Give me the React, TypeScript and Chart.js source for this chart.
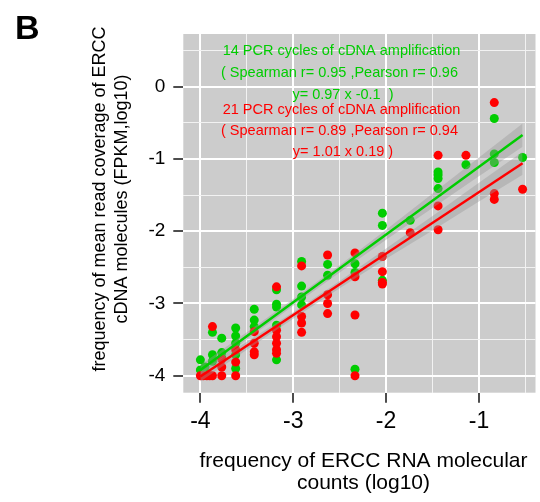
import React, { useEffect, useRef } from 'react';
import { Chart, registerables } from 'chart.js';
Chart.register(...registerables);

// ---- data (log10 scale) ----
const greenX = [-4.0, -4.0, -3.95, -3.87, -3.87, -3.87, -3.77, -3.77, -3.77, -3.62, -3.62, -3.62, -3.62, -3.62, -3.42, -3.42, -3.42, -3.18, -3.18, -3.18, -3.18, -3.18, -2.91, -2.91, -2.91, -2.91, -2.63, -2.63, -2.335, -2.335, -2.335, -2.04, -2.04, -2.04, -1.74, -1.44, -1.44, -1.44, -1.44, -1.14, -0.835, -0.835, -0.835, -0.53];
const greenY = [-3.78, -3.92, -3.88, -3.40, -3.71, -3.80, -3.48, -3.68, -3.75, -3.34, -3.45, -3.55, -3.71, -3.90, -3.08, -3.23, -3.32, -2.81, -3.01, -3.05, -3.30, -3.78, -2.42, -2.76, -2.91, -3.02, -2.46, -2.61, -2.45, -2.57, -3.91, -1.75, -1.92, -2.68, -1.85, -1.18, -1.22, -1.27, -1.41, -1.08, -0.44, -0.93, -1.05, -0.98];

const redX = [-4.0, -3.97, -3.93, -3.90, -3.87, -3.87, -3.77, -3.77, -3.77, -3.62, -3.62, -3.62, -3.42, -3.42, -3.42, -3.42, -3.18, -3.18, -3.18, -3.18, -3.18, -3.18, -2.91, -2.91, -2.91, -2.91, -2.63, -2.63, -2.63, -2.63, -2.335, -2.335, -2.335, -2.335, -2.04, -2.04, -2.04, -2.04, -1.74, -1.44, -1.44, -1.44, -1.14, -0.835, -0.835, -0.835, -0.53];
const redY = [-4.0, -4.0, -4.0, -4.0, -4.0, -3.32, -3.77, -3.88, -4.0, -3.64, -3.81, -4.0, -3.39, -3.55, -3.67, -3.71, -2.77, -3.37, -3.46, -3.55, -3.64, -3.69, -2.48, -3.18, -3.27, -3.40, -2.33, -2.88, -3.00, -3.14, -2.30, -2.63, -3.16, -4.00, -2.35, -2.56, -2.71, -2.73, -2.02, -0.95, -1.65, -1.98, -0.95, -0.22, -1.48, -1.56, -1.42];

// fitted lines (endpoints)
const fitX = [-4.0, -0.53];
const greenFitY = [-3.92, -0.67];
const redFitY = [-4.01, -1.06];

// confidence ribbons
const bandX = [-4.0, -3.5, -3.0, -2.5, -2.0, -1.5, -1.0, -0.53];
const greenUpper = [-3.85, -3.40, -2.94, -2.47, -1.98, -1.48, -0.98, -0.51];
const greenLower = [-3.99, -3.50, -3.03, -2.57, -2.12, -1.68, -1.24, -0.83];
const redUpper = [-3.94, -3.53, -3.12, -2.69, -2.24, -1.79, -1.33, -0.90];
const redLower = [-4.08, -3.64, -3.21, -2.79, -2.38, -1.99, -1.59, -1.22];

const xTickValues = [-4, -3.5, -3, -2.5, -2, -1.5, -1, -0.5];
const yTickValues = [-4, -3.5, -3, -2.5, -2, -1.5, -1, -0.5, 0, 0.5];

const greenText = ['14 PCR cycles of cDNA amplification', '( Spearman r= 0.95 ,Pearson r= 0.96', 'y= 0.97 x -0.1  )'];
const redText = ['21 PCR cycles of cDNA amplification', '( Spearman r= 0.89 ,Pearson r= 0.94', 'y= 1.01 x 0.19 )'];
const xTitle = ['frequency of ERCC RNA molecular', 'counts (log10)'];
const yTitle = ['frequency of mean read coverage of ERCC', 'cDNA molecules (FPKM,log10)'];
const panelLabel = 'B';

const GREEN = '#00CD00';
const RED = '#FF0000';
const FONT = '"Liberation Sans", Arial, Helvetica, sans-serif';

const zip = (xs: number[], ys: number[]) => xs.map((x, i) => ({ x, y: ys[i] }));
const isMajor = (v: number) => Math.abs(v - Math.round(v)) < 1e-9;

export default function App() {
  const ref = useRef<HTMLCanvasElement | null>(null);
  useEffect(() => {
    if (!ref.current) return;
    const bg = {
      id: 'panelBg',
      beforeDraw(chart: any) {
        const { ctx, chartArea: a } = chart;
        ctx.save();
        ctx.fillStyle = '#cccccc';
        ctx.fillRect(a.left, a.top, a.right - a.left, a.bottom - a.top);
        ctx.restore();
      },
    };
    const texts = {
      id: 'texts',
      afterDraw(chart: any) {
        const { ctx } = chart;
        ctx.save();
        ctx.textAlign = 'center';
        ctx.textBaseline = 'middle';
        ctx.font = `14.5px ${FONT}`;
        ctx.fillStyle = GREEN;
        const gy = [51, 73, 95];
        const gx = [341.5, 339.5, 343];
        greenText.forEach((t, i) => ctx.fillText(t, gx[i], gy[i]));
        ctx.fillStyle = RED;
        const ry = [110, 131, 152];
        redText.forEach((t, i) => ctx.fillText(t, gx[i], ry[i]));
        // x title
        ctx.fillStyle = '#000';
        ctx.font = `21px ${FONT}`;
        ctx.fillText(xTitle[0], 363.5, 461);
        ctx.fillText(xTitle[1], 363.5, 483);
        // y title
        ctx.save();
        ctx.translate(0, 199);
        ctx.rotate(-Math.PI / 2);
        ctx.font = `18px ${FONT}`;
        ctx.fillText(yTitle[0], 0, 100);
        ctx.fillText(yTitle[1], 0, 122);
        ctx.restore();
        // panel label
        ctx.textAlign = 'left';
        ctx.textBaseline = 'alphabetic';
        ctx.font = `bold 34px ${FONT}`;
        ctx.fillText(panelLabel, 15, 39);
        ctx.restore();
      },
    };
    const band = 'rgba(153,153,153,0.4)';
    const chart = new Chart(ref.current, {
      type: 'scatter',
      data: {
        datasets: [
          { type: 'line', data: zip(fitX, greenFitY), borderColor: GREEN, borderWidth: 2.5, pointRadius: 0, fill: false, tension: 0 } as any,
          { type: 'line', data: zip(fitX, redFitY), borderColor: RED, borderWidth: 2.5, pointRadius: 0, fill: false, tension: 0 } as any,
          { type: 'line', data: zip(bandX, greenUpper), borderColor: 'transparent', borderWidth: 1, pointRadius: 0, fill: false } as any,
          { type: 'line', data: zip(bandX, greenLower), borderColor: 'transparent', borderWidth: 1, pointRadius: 0, fill: '-1', backgroundColor: band } as any,
          { type: 'line', data: zip(bandX, redUpper), borderColor: 'transparent', borderWidth: 1, pointRadius: 0, fill: false } as any,
          { type: 'line', data: zip(bandX, redLower), borderColor: 'transparent', borderWidth: 1, pointRadius: 0, fill: '-1', backgroundColor: band } as any,
          { data: zip(redX, redY), backgroundColor: RED, borderWidth: 0, pointRadius: 4.5 },
          { data: zip(greenX, greenY), backgroundColor: GREEN, borderWidth: 0, pointRadius: 4.5 },
        ],
      },
      options: {
        animation: false,
        responsive: false,
        events: [],
        layout: { padding: { top: 34, left: 0, right: 0, bottom: 0 } },
        plugins: { legend: { display: false }, tooltip: { enabled: false }, title: { display: false } },
        scales: {
          x: {
            type: 'linear',
            min: -4.184,
            max: -0.391,
            afterBuildTicks: (s: any) => { s.ticks = xTickValues.map((v) => ({ value: v })); },
            afterFit: (s: any) => { s.height = 109.3; },
            border: { display: false },
            grid: {
              color: (c: any) => (c.tick && isMajor(c.tick.value) ? '#ffffff' : '#f2f2f2'),
              lineWidth: (c: any) => (c.tick && isMajor(c.tick.value) ? 2 : 1),
              tickColor: (c: any) => (c.tick && isMajor(c.tick.value) ? '#4d4d4d' : 'rgba(0,0,0,0)'),
              tickWidth: 2,
              tickLength: 10,
            },
            ticks: {
              autoSkip: false,
              maxRotation: 0,
              padding: 5,
              color: '#000',
              font: { family: FONT, size: 23 },
              callback: (v: any) => (isMajor(Number(v)) ? String(Math.round(Number(v))) : ''),
            },
          },
          y: {
            type: 'linear',
            min: -4.235,
            max: 0.729,
            afterBuildTicks: (s: any) => { s.ticks = yTickValues.map((v) => ({ value: v })); },
            afterFit: (s: any) => { s.width = 183.3; },
            border: { display: false },
            grid: {
              color: (c: any) => (c.tick && isMajor(c.tick.value) ? '#ffffff' : '#f2f2f2'),
              lineWidth: (c: any) => (c.tick && isMajor(c.tick.value) ? 2 : 1),
              tickColor: (c: any) => (c.tick && isMajor(c.tick.value) ? '#4d4d4d' : 'rgba(0,0,0,0)'),
              tickWidth: 2,
              tickLength: 10,
            },
            ticks: {
              autoSkip: false,
              padding: 8,
              color: '#000',
              font: { family: FONT, size: 19 },
              callback: (v: any) => (isMajor(Number(v)) ? String(Math.round(Number(v))) : ''),
            },
          },
        },
      },
      plugins: [bg, texts],
    } as any);
    return () => chart.destroy();
  }, []);
  return (
    <div style={{ position: 'absolute', left: 0, top: 0, width: 540, height: 502, overflow: 'hidden' }}>
      <canvas ref={ref} width={540} height={502} style={{ display: 'block' }} />
    </div>
  );
}
